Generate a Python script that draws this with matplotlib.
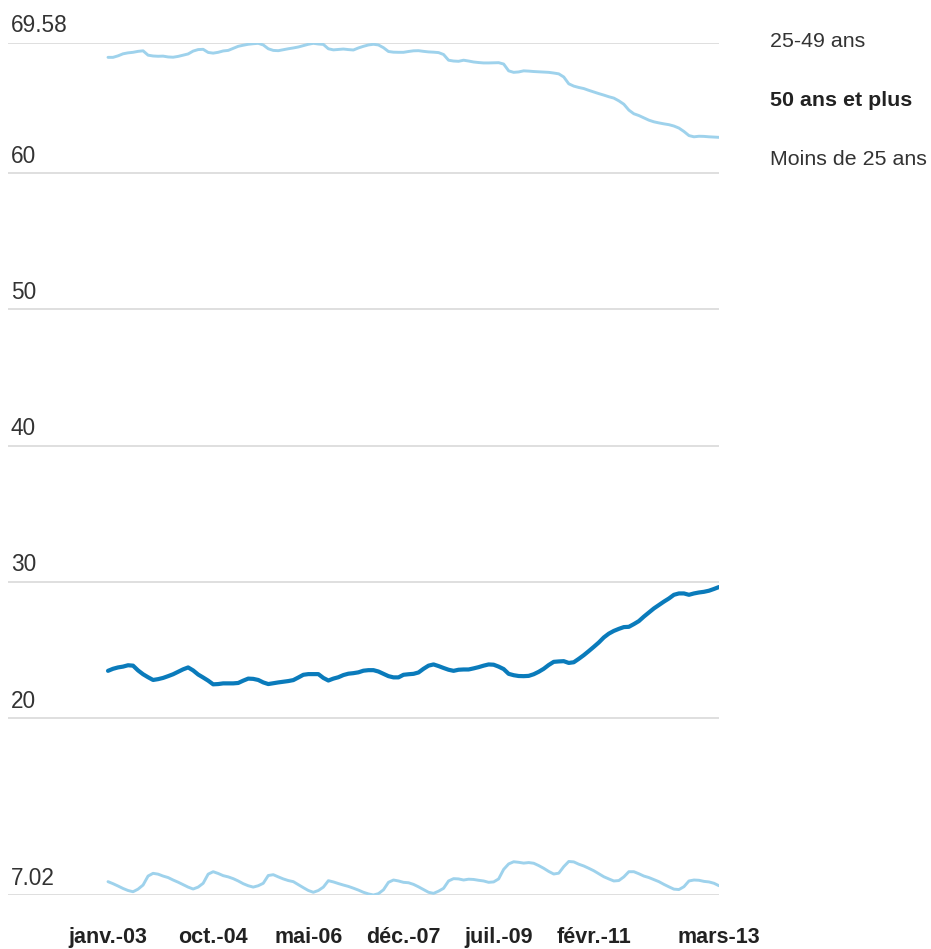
import matplotlib
matplotlib.use("Agg")
import matplotlib.pyplot as plt

plt.rcParams['font.family'] = ['Liberation Sans', 'DejaVu Sans']

# Monthly shares (%), janv. 2003 -> mars 2013
age_25_49 = [
    68.49, 68.49, 68.60, 68.75, 68.82, 68.86, 68.93, 68.97, 68.65, 68.59,
    68.57, 68.58, 68.52, 68.50, 68.56, 68.65, 68.74, 68.95, 69.06, 69.08,
    68.85, 68.80, 68.86, 68.96, 69.00, 69.15, 69.30, 69.38, 69.45, 69.49,
    69.52, 69.40, 69.12, 69.00, 68.98, 69.05, 69.12, 69.18, 69.25, 69.35,
    69.45, 69.52, 69.47, 69.44, 69.12, 69.04, 69.07, 69.10, 69.06, 69.03,
    69.18, 69.30, 69.40, 69.45, 69.40, 69.20, 68.92, 68.87, 68.86, 68.86,
    68.92, 68.97, 68.98, 68.93, 68.89, 68.87, 68.84, 68.70, 68.28, 68.22,
    68.20, 68.28, 68.22, 68.15, 68.11, 68.08, 68.08, 68.09, 68.10, 68.00,
    67.50, 67.39, 67.42, 67.50, 67.48, 67.45, 67.43, 67.41, 67.39, 67.34,
    67.28, 67.05, 66.55, 66.38, 66.28, 66.20, 66.07, 65.95, 65.83, 65.72,
    65.60, 65.50, 65.30, 65.05, 64.62, 64.35, 64.22, 64.05, 63.88, 63.76,
    63.68, 63.61, 63.55, 63.45, 63.30, 63.05, 62.75, 62.66, 62.70, 62.69,
    62.66, 62.64, 62.62,
]
age_50_plus = [
    23.47, 23.62, 23.72, 23.78, 23.88, 23.85, 23.50, 23.22, 23.00, 22.80,
    22.86, 22.95, 23.08, 23.22, 23.40, 23.58, 23.72, 23.50, 23.20, 22.98,
    22.75, 22.48, 22.50, 22.55, 22.55, 22.55, 22.58, 22.75, 22.90, 22.88,
    22.80, 22.62, 22.50, 22.56, 22.62, 22.67, 22.72, 22.79, 22.98, 23.18,
    23.23, 23.23, 23.23, 22.95, 22.76, 22.90, 23.00, 23.16, 23.26, 23.30,
    23.36, 23.48, 23.52, 23.52, 23.42, 23.25, 23.08, 22.99, 22.99, 23.18,
    23.22, 23.25, 23.35, 23.62, 23.85, 23.94, 23.82, 23.68, 23.55, 23.47,
    23.55, 23.57, 23.57, 23.65, 23.74, 23.85, 23.94, 23.92, 23.78, 23.60,
    23.25, 23.15, 23.09, 23.08, 23.10, 23.22, 23.40, 23.62, 23.90, 24.13,
    24.16, 24.18, 24.05, 24.10, 24.35, 24.62, 24.92, 25.23, 25.55, 25.92,
    26.20, 26.40, 26.55, 26.68, 26.70, 26.90, 27.12, 27.45, 27.75, 28.05,
    28.30, 28.55, 28.78, 29.05, 29.15, 29.15, 29.05, 29.15, 29.22, 29.27,
    29.35, 29.48, 29.62,
]
age_under_25 = [
    8.00, 7.85, 7.68, 7.50, 7.35, 7.26, 7.45, 7.75, 8.41, 8.61,
    8.55, 8.41, 8.30, 8.12, 7.96, 7.78, 7.60, 7.46, 7.60, 7.88,
    8.55, 8.73, 8.60, 8.44, 8.35, 8.22, 8.05, 7.85, 7.70, 7.60,
    7.70, 7.88, 8.45, 8.51, 8.35, 8.20, 8.08, 8.00, 7.78, 7.56,
    7.35, 7.22, 7.35, 7.60, 8.07, 7.98, 7.86, 7.75, 7.65, 7.52,
    7.38, 7.22, 7.10, 7.02, 7.12, 7.40, 7.95, 8.12, 8.05, 7.95,
    7.92, 7.80, 7.62, 7.42, 7.22, 7.14, 7.30, 7.51, 8.05, 8.22,
    8.20, 8.12, 8.18, 8.16, 8.10, 8.05, 7.95, 7.98, 8.20, 8.90,
    9.30, 9.46, 9.42, 9.36, 9.40, 9.35, 9.18, 8.98, 8.75, 8.56,
    8.62, 9.10, 9.48, 9.45, 9.28, 9.15, 8.98, 8.80, 8.58, 8.36,
    8.20, 8.05, 8.08, 8.35, 8.73, 8.73, 8.58, 8.41, 8.30, 8.15,
    8.00, 7.80, 7.62, 7.45, 7.42, 7.63, 8.05, 8.12, 8.10, 8.02,
    7.98, 7.88, 7.70,
]

start_year, start_month = 2003, 1
tick_dates = [(2003, 1), (2004, 10), (2006, 5), (2007, 12), (2009, 7), (2011, 2), (2013, 3)]
tick_labels = ["janv.-03", "oct.-04", "mai-06", "déc.-07", "juil.-09", "févr.-11", "mars-13"]
y_ticks = [7.02, 20, 30, 40, 50, 60, 69.58]
y_tick_labels = ["7.02", "20", "30", "40", "50", "60", "69.58"]
legend_labels = ["25-49 ans", "50 ans et plus", "Moins de 25 ans"]

x = list(range(len(age_25_49)))
tick_pos = [(y - start_year) * 12 + (m - start_month) for (y, m) in tick_dates]

W, H = 931, 949
fig = plt.figure(figsize=(W / 100, H / 100), dpi=100)
left_px, right_px = 8, 719
data_left_px = 108
top_px, bottom_px = 42.5, 895
ax = fig.add_axes([left_px / W, 1 - bottom_px / H, (right_px - left_px) / W, (bottom_px - top_px) / H])

n_last = len(x) - 1
ppm = (right_px - data_left_px) / n_last
ax.set_xlim(-(data_left_px - left_px) / ppm, n_last)
ax.set_ylim(y_ticks[0], y_ticks[-1])

light = "#9ed2ec"
dark = "#0a7bbb"
for v in y_ticks:
    ax.axhline(v, color="#d9d9d9", lw=1.2, zorder=1)

ax.plot(x, age_25_49, color=light, lw=2.1, zorder=3, solid_capstyle="round")
ax.plot(x, age_under_25, color=light, lw=2.1, zorder=3, solid_capstyle="round")
ax.plot(x, age_50_plus, color=dark, lw=3.0, zorder=4, solid_capstyle="round")

for v, lab in zip(y_ticks, y_tick_labels):
    ax.annotate(lab, xy=(0, v), xycoords=("axes fraction", "data"),
                xytext=(2, 7.5), textcoords="offset points",
                ha="left", va="baseline", fontsize=16.3, color="#333333")

ax.set_yticks([])
ax.set_xticks(tick_pos)
ax.set_xticklabels(tick_labels, fontsize=15.5, fontweight="bold", color="#222222")
ax.tick_params(axis="x", length=0, pad=23)
for s in ax.spines.values():
    s.set_visible(False)

legend_baselines = [47, 106, 165]
for lab, b, w in zip(legend_labels, legend_baselines, ["normal", "bold", "normal"]):
    fig.text(770 / W, 1 - b / H, lab, ha="left", va="baseline", fontsize=15.4,
             fontweight=w, color="#333333" if w == "normal" else "#222222")

fig.savefig("out.png", dpi=100)
